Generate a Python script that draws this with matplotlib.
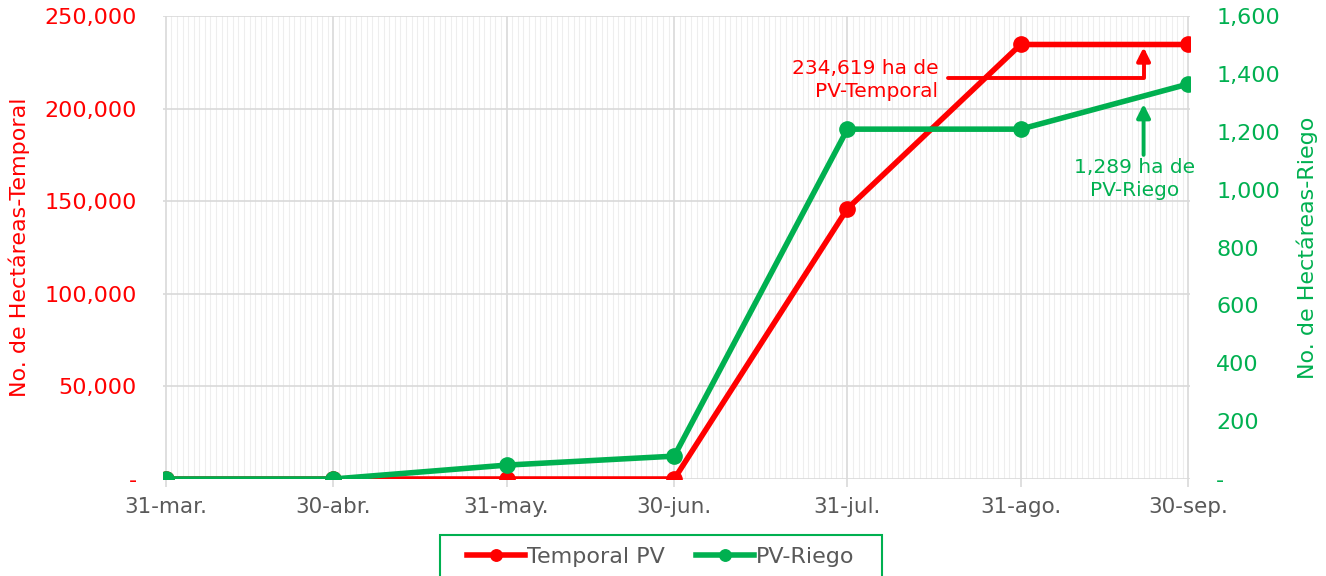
import datetime as dt
import matplotlib
matplotlib.use("Agg")
import matplotlib.pyplot as plt
import matplotlib.dates as mdates
from matplotlib.patches import Rectangle
from matplotlib.ticker import FuncFormatter, MultipleLocator

# data
fechas = ["2023-03-31", "2023-04-30", "2023-05-31", "2023-06-30",
          "2023-07-31", "2023-08-31", "2023-09-30"]
etiquetas_x = ["31-mar.", "30-abr.", "31-may.", "30-jun.", "31-jul.", "31-ago.", "30-sep."]
temporal = [0, 0, 0, 0, 146000, 234619, 234619]
riego = [0, 0, 48, 79, 1209, 1209, 1365]

rojo = "#FF0000"
verde = "#00B050"
gris = "#595959"

x = [dt.datetime.strptime(f, "%Y-%m-%d") for f in fechas]

plt.rcParams['font.family'] = ['DejaVu Sans']

fig = plt.figure(figsize=(13.26, 5.76), dpi=100)
ax = fig.add_axes([0.1229, 0.1684, 0.7745, 0.8038])
ax2 = ax.twinx()

l1, = ax.plot(x, temporal, color=rojo, lw=4, marker='o', ms=11, label='Temporal PV', zorder=3)
l2, = ax2.plot(x, riego, color=verde, lw=4, marker='o', ms=11, label='PV-Riego', zorder=3)

ax.set_xlim(x[0] - dt.timedelta(days=0.5), x[-1] + dt.timedelta(days=0.3))
ax.set_ylim(0, 250000)
ax2.set_ylim(0, 1600)

ax.set_xticks(x)
ax.set_xticklabels(etiquetas_x)
ax.xaxis.set_minor_locator(mdates.DayLocator())
ax.yaxis.set_major_locator(MultipleLocator(50000))
ax2.yaxis.set_major_locator(MultipleLocator(200))

fmt = FuncFormatter(lambda v, p: "-" if v == 0 else f"{v:,.0f}")
ax.yaxis.set_major_formatter(fmt)
ax2.yaxis.set_major_formatter(fmt)

ax.grid(which='major', color='#D9D9D9', lw=1.2)
ax.grid(which='minor', axis='x', color='#EEEEEE', lw=0.8)
ax.set_axisbelow(True)

for a in (ax, ax2):
    for s in a.spines.values():
        s.set_visible(False)

ax.tick_params(axis='x', colors='#D9D9D9', labelcolor=gris, labelsize=15.5, length=6, width=1.2, pad=7)
ax.tick_params(axis='x', which='minor', length=0)
ax.tick_params(axis='y', colors=rojo, labelsize=16, length=0, pad=19)
ax2.tick_params(axis='y', colors=verde, labelsize=16, length=0, pad=19)

ax.set_ylabel("No. de Hectáreas-Temporal", color=rojo, fontsize=16, labelpad=10)
ax2.set_ylabel("No. de Hectáreas-Riego", color=verde, fontsize=16, labelpad=12)

# annotations
ax.text(dt.datetime(2023, 8, 16, 6), 215400, "234,619 ha de\nPV-Temporal", color=rojo,
        fontsize=14.5, ha='right', va='center', multialignment='right', linespacing=1.25)
ax.annotate("", xy=(dt.datetime(2023, 9, 22), 234619 - 1500),
            xytext=(dt.datetime(2023, 8, 18), 216500),
            arrowprops=dict(arrowstyle='-|>,head_length=0.8,head_width=0.4', color=rojo, lw=2.8,
                            shrinkA=0, shrinkB=0,
                            connectionstyle='angle,angleA=0,angleB=90,rad=0'))

ax2.text(dt.datetime(2023, 9, 20, 10), 1037, "1,289 ha de\nPV-Riego", color=verde,
         fontsize=14.5, ha='center', va='center', linespacing=1.25)
ax2.annotate("", xy=(dt.datetime(2023, 9, 22), 1296),
             xytext=(dt.datetime(2023, 9, 22), 1120),
             arrowprops=dict(arrowstyle='-|>,head_length=0.8,head_width=0.4', color=verde, lw=2.8,
                             shrinkA=0, shrinkB=0))

# legend below the plot, with a green box cut by the bottom edge
leg = fig.legend(handles=[l1, l2], loc='center', bbox_to_anchor=(0.4985, 0.033),
                 ncol=2, frameon=False, fontsize=16, handlelength=2.6,
                 columnspacing=1.4, borderpad=0, handletextpad=0.1,
                 markerscale=0.75, labelcolor=gris)
fig.patches.append(Rectangle((440 / 1326, -0.02), 442 / 1326, 0.02 + 41 / 576,
                             transform=fig.transFigure, fill=False,
                             edgecolor=verde, lw=1.5))

fig.savefig("out.png", dpi=100)
